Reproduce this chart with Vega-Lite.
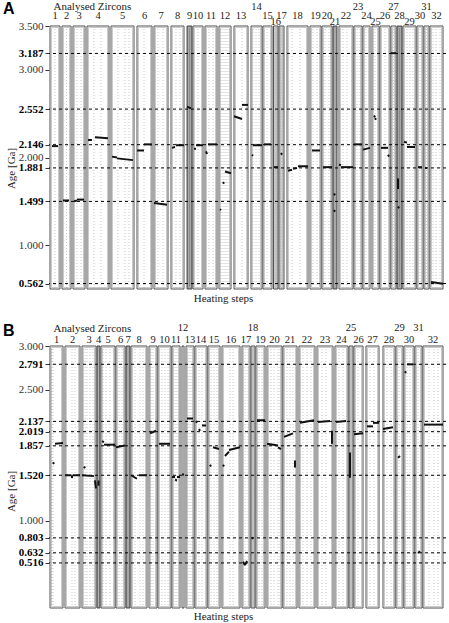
{
  "$schema": "https://vega.github.io/schema/vega-lite/v6.json",
  "autosize": {"type": "pad"},
  "padding": {"left": 3, "top": 0, "right": 3, "bottom": 2},
  "background": "#ffffff",
  "config": {
    "view": {"stroke": null},
    "font": "Liberation Serif",
    "axisY": {"grid": false, "labelOverlap": false, "labelFlush": false, "labelBound": false},
    "title": {"font": "Liberation Sans", "fontSize": 16, "fontWeight": "bold", "color": "#000000", "anchor": "start", "frame": "group", "dx": -46, "baseline": "alphabetic", "offset": -17}
  },
  "datasets": {
    "boxesA": [
      {"z": 1, "from": 1, "to": 11, "tone": "open", "g": [6]},
      {"z": 2, "from": 13, "to": 22, "tone": "open", "g": [17.5]},
      {"z": 3, "from": 24, "to": 36, "tone": "open", "g": [28, 32]},
      {"z": 4, "from": 38, "to": 60, "tone": "open", "g": [45, 52]},
      {"z": 5, "from": 62, "to": 85, "tone": "open", "g": [69, 76, 80]},
      {"z": 6, "from": 88, "to": 103, "tone": "open", "g": [95]},
      {"z": 7, "from": 105, "to": 119, "tone": "open", "g": [109, 114]},
      {"z": 8, "from": 122, "to": 135, "tone": "open", "g": [127, 131]},
      {"z": 9, "from": 138, "to": 143, "tone": "dark", "g": []},
      {"z": 10, "from": 144, "to": 154, "tone": "open", "g": [149]},
      {"z": 11, "from": 156, "to": 168, "tone": "open", "g": [160, 164]},
      {"z": 12, "from": 170, "to": 182, "tone": "open", "g": [172, 174, 176, 178, 180]},
      {"z": 13, "from": 185, "to": 199, "tone": "open", "g": [193]},
      {"z": 14, "from": 202, "to": 213, "tone": "open", "g": [204, 207, 210]},
      {"z": 15, "from": 214, "to": 223, "tone": "open", "g": [218]},
      {"z": 16, "from": 224.5, "to": 229, "tone": "light", "g": [226.5]},
      {"z": 17, "from": 230, "to": 235, "tone": "light", "g": [232.5]},
      {"z": 18, "from": 238, "to": 259, "tone": "open", "g": [243, 251]},
      {"z": 19, "from": 261, "to": 272, "tone": "open", "g": [264, 268]},
      {"z": 20, "from": 273, "to": 283, "tone": "open", "g": [276, 280]},
      {"z": 21, "from": 284, "to": 288, "tone": "dark", "g": []},
      {"z": 22, "from": 290, "to": 304, "tone": "open", "g": [294, 298, 303]},
      {"z": 23, "from": 305, "to": 313, "tone": "open", "g": [308, 311]},
      {"z": 24, "from": 314, "to": 321, "tone": "open", "g": [317]},
      {"z": 25, "from": 323, "to": 330, "tone": "open", "g": [326]},
      {"z": 26, "from": 331, "to": 341, "tone": "open", "g": [336]},
      {"z": 27, "from": 342, "to": 347, "tone": "open", "g": [344.5]},
      {"z": 28, "from": 348, "to": 353, "tone": "dark", "g": []},
      {"z": 29, "from": 354, "to": 367, "tone": "open", "g": [358, 361, 364]},
      {"z": 30, "from": 368, "to": 374, "tone": "open", "g": [371]},
      {"z": 31, "from": 375, "to": 380, "tone": "open", "g": [377.5]},
      {"z": 32, "from": 381, "to": 394, "tone": "open", "g": [384, 387, 391]}
    ],
    "boxesB": [
      {"z": 1, "from": 1, "to": 14, "tone": "open", "g": [2, 3, 4]},
      {"z": 2, "from": 16, "to": 31, "tone": "open", "g": [23, 26]},
      {"z": 3, "from": 33, "to": 47, "tone": "open", "g": [36, 38, 41, 44, 46]},
      {"z": 4, "from": 48, "to": 51, "tone": "dark", "g": []},
      {"z": 5, "from": 52, "to": 66, "tone": "open", "g": [54, 57, 61]},
      {"z": 6, "from": 67, "to": 76, "tone": "open", "g": [70, 73]},
      {"z": 7, "from": 77, "to": 81, "tone": "dark", "g": []},
      {"z": 8, "from": 82, "to": 98, "tone": "open", "g": [86, 91, 94]},
      {"z": 9, "from": 100, "to": 108, "tone": "open", "g": [102, 104]},
      {"z": 10, "from": 109, "to": 122, "tone": "open", "g": [113, 116, 119]},
      {"z": 11, "from": 123, "to": 131, "tone": "open", "g": [126, 128]},
      {"z": 12, "from": 133, "to": 135, "tone": "light", "g": []},
      {"z": 13, "from": 137, "to": 145, "tone": "open", "g": [139, 141, 143]},
      {"z": 14, "from": 146, "to": 158, "tone": "open", "g": [150, 153]},
      {"z": 15, "from": 159, "to": 171, "tone": "open", "g": [162, 165, 168]},
      {"z": 16, "from": 173, "to": 191, "tone": "open", "g": [181, 184]},
      {"z": 17, "from": 193, "to": 201, "tone": "open", "g": [196, 199]},
      {"z": 18, "from": 202, "to": 206, "tone": "light", "g": []},
      {"z": 19, "from": 207, "to": 216, "tone": "open", "g": [210, 213]},
      {"z": 20, "from": 218, "to": 233, "tone": "open", "g": [222, 225, 229, 231]},
      {"z": 21, "from": 234, "to": 248, "tone": "open", "g": [238, 241, 244]},
      {"z": 22, "from": 250, "to": 266, "tone": "open", "g": [254, 258, 262]},
      {"z": 23, "from": 268, "to": 284, "tone": "open", "g": [273, 277]},
      {"z": 24, "from": 286, "to": 299, "tone": "open", "g": [290, 294]},
      {"z": 25, "from": 300, "to": 304, "tone": "light", "g": []},
      {"z": 26, "from": 305, "to": 314, "tone": "open", "g": [309]},
      {"z": 27, "from": 317, "to": 330, "tone": "open", "g": [321, 325]},
      {"z": 28, "from": 334, "to": 346, "tone": "open", "g": [338, 342]},
      {"z": 29, "from": 347, "to": 354, "tone": "open", "g": [350]},
      {"z": 30, "from": 355, "to": 365, "tone": "open", "g": [358, 361]},
      {"z": 31, "from": 366, "to": 373, "tone": "open", "g": [369]},
      {"z": 32, "from": 374, "to": 394, "tone": "open", "g": [380, 385, 389]}
    ],
    "stepsA": [
      {"s0": 3, "s1": 9, "age0": 2.13, "age1": 2.13},
      {"s0": 14, "s1": 20, "age0": 1.51, "age1": 1.51},
      {"s0": 25, "s1": 28, "age0": 1.50, "age1": 1.51},
      {"s0": 28, "s1": 35, "age0": 1.52, "age1": 1.52},
      {"s0": 39, "s1": 43, "age0": 2.20, "age1": 2.20},
      {"s0": 46, "s1": 59, "age0": 2.23, "age1": 2.22},
      {"s0": 63, "s1": 68, "age0": 2.01, "age1": 2.00},
      {"s0": 68, "s1": 84, "age0": 1.99, "age1": 1.97},
      {"s0": 88, "s1": 95, "age0": 2.08, "age1": 2.08},
      {"s0": 95, "s1": 103, "age0": 2.15, "age1": 2.15},
      {"s0": 105, "s1": 118, "age0": 1.48, "age1": 1.46},
      {"s0": 123, "s1": 126, "age0": 2.11, "age1": 2.12},
      {"s0": 127, "s1": 135, "age0": 2.14, "age1": 2.14},
      {"s0": 138, "s1": 142, "age0": 2.58, "age1": 2.56},
      {"s0": 145, "s1": 147, "age0": 2.10, "age1": 2.10},
      {"s0": 147, "s1": 154, "age0": 2.14, "age1": 2.14},
      {"s0": 157, "s1": 158, "age0": 2.07, "age1": 2.04},
      {"s0": 159, "s1": 168, "age0": 2.15, "age1": 2.15},
      {"s0": 171, "s1": 172, "age0": 1.41, "age1": 1.40},
      {"s0": 174, "s1": 175, "age0": 1.72, "age1": 1.70},
      {"s0": 176, "s1": 182, "age0": 1.84, "age1": 1.82},
      {"s0": 185, "s1": 193, "age0": 2.47, "age1": 2.44},
      {"s0": 193, "s1": 199, "age0": 2.60, "age1": 2.60},
      {"s0": 203, "s1": 204, "age0": 2.03, "age1": 2.02},
      {"s0": 204, "s1": 213, "age0": 2.14, "age1": 2.14},
      {"s0": 215, "s1": 222, "age0": 2.15, "age1": 2.15},
      {"s0": 225, "s1": 229, "age0": 1.89, "age1": 1.89},
      {"s0": 232, "s1": 233, "age0": 2.05, "age1": 2.03},
      {"s0": 239, "s1": 243, "age0": 1.85, "age1": 1.86},
      {"s0": 244, "s1": 248, "age0": 1.87, "age1": 1.88},
      {"s0": 249, "s1": 259, "age0": 1.90, "age1": 1.90},
      {"s0": 263, "s1": 271, "age0": 2.08, "age1": 2.08},
      {"s0": 274, "s1": 283, "age0": 1.89, "age1": 1.89},
      {"s0": 285, "s1": 286, "age0": 1.59, "age1": 1.57},
      {"s0": 285, "s1": 286, "age0": 1.40, "age1": 1.38},
      {"s0": 290, "s1": 292, "age0": 1.92, "age1": 1.91},
      {"s0": 292, "s1": 304, "age0": 1.89, "age1": 1.89},
      {"s0": 305, "s1": 313, "age0": 2.15, "age1": 2.15},
      {"s0": 314, "s1": 321, "age0": 2.09, "age1": 2.11},
      {"s0": 325, "s1": 326, "age0": 2.48, "age1": 2.46},
      {"s0": 326, "s1": 327, "age0": 2.45, "age1": 2.43},
      {"s0": 332, "s1": 339, "age0": 2.11, "age1": 2.11},
      {"s0": 339, "s1": 340, "age0": 2.03, "age1": 2.01},
      {"s0": 342, "s1": 347, "age0": 3.19, "age1": 3.19},
      {"s0": 349, "s1": 349, "age0": 1.76, "age1": 1.64},
      {"s0": 349, "s1": 350, "age0": 1.44, "age1": 1.42},
      {"s0": 355, "s1": 358, "age0": 2.18, "age1": 2.17},
      {"s0": 358, "s1": 366, "age0": 2.12, "age1": 2.12},
      {"s0": 369, "s1": 373, "age0": 1.89, "age1": 1.89},
      {"s0": 376, "s1": 378, "age0": 1.88, "age1": 1.88},
      {"s0": 382, "s1": 394, "age0": 0.58, "age1": 0.56}
    ],
    "stepsB": [
      {"s0": 4, "s1": 5, "age0": 1.67, "age1": 1.65},
      {"s0": 6, "s1": 14, "age0": 1.88, "age1": 1.89},
      {"s0": 16, "s1": 22, "age0": 1.52, "age1": 1.52},
      {"s0": 22, "s1": 24, "age0": 1.50, "age1": 1.50},
      {"s0": 24, "s1": 31, "age0": 1.52, "age1": 1.52},
      {"s0": 35, "s1": 36, "age0": 1.62, "age1": 1.60},
      {"s0": 33, "s1": 45, "age0": 1.52, "age1": 1.51},
      {"s0": 46, "s1": 47, "age0": 1.46, "age1": 1.37},
      {"s0": 49.5, "s1": 49.5, "age0": 1.46, "age1": 1.40},
      {"s0": 53, "s1": 55, "age0": 1.91, "age1": 1.90},
      {"s0": 55, "s1": 66, "age0": 1.87, "age1": 1.87},
      {"s0": 67, "s1": 76, "age0": 1.84, "age1": 1.86},
      {"s0": 82, "s1": 88, "age0": 1.52, "age1": 1.48},
      {"s0": 90, "s1": 98, "age0": 1.52, "age1": 1.52},
      {"s0": 101, "s1": 107, "age0": 2.00, "age1": 2.03},
      {"s0": 110, "s1": 121, "age0": 1.88, "age1": 1.88},
      {"s0": 123, "s1": 126, "age0": 1.50, "age1": 1.50},
      {"s0": 126, "s1": 128, "age0": 1.47, "age1": 1.46},
      {"s0": 128, "s1": 131, "age0": 1.50, "age1": 1.50},
      {"s0": 133, "s1": 135, "age0": 1.53, "age1": 1.53},
      {"s0": 138, "s1": 144, "age0": 2.17, "age1": 2.17},
      {"s0": 147, "s1": 148, "age0": 2.14, "age1": 2.12},
      {"s0": 150, "s1": 151, "age0": 2.05, "age1": 2.03},
      {"s0": 153, "s1": 157, "age0": 2.09, "age1": 2.09},
      {"s0": 161, "s1": 162, "age0": 1.64, "age1": 1.62},
      {"s0": 164, "s1": 170, "age0": 1.84, "age1": 1.82},
      {"s0": 174, "s1": 175, "age0": 1.64, "age1": 1.62},
      {"s0": 176, "s1": 180, "age0": 1.74, "age1": 1.79},
      {"s0": 180, "s1": 191, "age0": 1.81, "age1": 1.84},
      {"s0": 194, "s1": 196, "age0": 0.53, "age1": 0.49},
      {"s0": 196, "s1": 198, "age0": 0.49, "age1": 0.54},
      {"s0": 203, "s1": 204, "age0": 0.81, "age1": 0.79},
      {"s0": 208, "s1": 216, "age0": 2.15, "age1": 2.15},
      {"s0": 218, "s1": 229, "age0": 1.88, "age1": 1.86},
      {"s0": 229, "s1": 232, "age0": 1.84, "age1": 1.82},
      {"s0": 235, "s1": 244, "age0": 1.96, "age1": 2.00},
      {"s0": 246, "s1": 246, "age0": 1.69, "age1": 1.61},
      {"s0": 251, "s1": 265, "age0": 2.12, "age1": 2.15},
      {"s0": 269, "s1": 281, "age0": 2.13, "age1": 2.14},
      {"s0": 283, "s1": 283, "age0": 2.03, "age1": 1.88},
      {"s0": 287, "s1": 297, "age0": 2.13, "age1": 2.14},
      {"s0": 301, "s1": 301, "age0": 1.78, "age1": 1.49},
      {"s0": 305, "s1": 314, "age0": 1.99, "age1": 2.00},
      {"s0": 318, "s1": 324, "age0": 2.08, "age1": 2.08},
      {"s0": 324, "s1": 330, "age0": 2.12, "age1": 2.12},
      {"s0": 334, "s1": 344, "age0": 2.05, "age1": 2.07},
      {"s0": 349, "s1": 351, "age0": 1.72, "age1": 1.74},
      {"s0": 356, "s1": 357, "age0": 2.71, "age1": 2.69},
      {"s0": 358, "s1": 364, "age0": 2.79, "age1": 2.79},
      {"s0": 369, "s1": 371, "age0": 0.63, "age1": 0.65},
      {"s0": 375, "s1": 394, "age0": 2.10, "age1": 2.10}
    ],
    "refA": [{"age": 3.187}, {"age": 2.552}, {"age": 2.146}, {"age": 1.881}, {"age": 1.499}, {"age": 0.562}],
    "refB": [{"age": 2.791}, {"age": 2.137}, {"age": 2.019}, {"age": 1.857}, {"age": 1.520}, {"age": 0.803}, {"age": 0.632}, {"age": 0.516}]
  },
  "vconcat": [
    {
      "title": {"text": "A"},
      "width": 397,
      "height": 263,
      "layer": [
        {
          "data": {"name": "refA"},
          "mark": {"type": "rule", "stroke": "#000000", "strokeWidth": 1, "opacity": 0},
          "encoding": {
            "y": {"field": "age", "type": "quantitative", "scale": {"domain": [0.5, 3.5], "nice": false, "zero": false},
                  "axis": {"orient": "left", "values": [3.5, 3.187, 3.0, 2.552, 2.146, 2.0, 1.881, 1.499, 1.0, 0.562], "format": ".3f",
                           "labelFont": "Liberation Serif", "labelFontSize": 11, "labelOverlap": false, "labelFlush": false, "labelPadding": 2,
                           "labelFontWeight": {"condition": {"test": "indexof([3.187, 2.552, 2.146, 1.881, 1.499, 0.562], datum.value) >= 0", "value": "bold"}, "value": "normal"},
                           "labelColor": {"condition": {"test": "indexof([3.187, 2.552, 2.146, 1.881, 1.499, 0.562], datum.value) >= 0", "value": "#000000"}, "value": "#333333"},
                           "ticks": true, "tickSize": 4, "tickColor": "#333", "domain": false, "grid": false,
                           "title": "Age [Ga]", "titleFont": "Liberation Serif", "titleFontSize": 11, "titleFontWeight": "normal", "titleColor": "#222",
                           "titlePadding": 2, "titleY": 142}}
          }
        },
        {
          "data": {"name": "boxesA"},
          "mark": {"type": "rect", "stroke": "#505050", "strokeWidth": 1},
          "encoding": {
            "x": {"field": "from", "type": "quantitative", "scale": {"domain": [0, 397], "nice": false, "zero": false},
                  "axis": {"orient": "top", "title": "Analysed Zircons", "labels": false, "ticks": false, "domain": false, "grid": false,
                           "titleFont": "Liberation Serif", "titleFontSize": 11, "titleFontWeight": "normal", "titleColor": "#222",
                           "titleAnchor": "start", "titleAlign": "left", "titleBaseline": "alphabetic", "titleX": 4, "titleY": -17}},
            "x2": {"field": "to"},
            "y": {"datum": 3.5, "type": "quantitative", "axis": null},
            "y2": {"datum": 0.5},
            "fill": {"field": "tone", "type": "nominal", "scale": {"domain": ["open", "light", "dark"], "range": ["#ffffff", "#d6d6d6", "#8c8c8c"]}, "legend": null}
          }
        },
        {
          "data": {"name": "boxesA"},
          "mark": {"type": "rect", "fill": null, "stroke": "#b4b4b4", "strokeWidth": 0.7, "xOffset": 1.5, "x2Offset": -1.5, "yOffset": 1.5, "y2Offset": -1.5},
          "encoding": {
            "x": {"field": "from", "type": "quantitative", "axis": null},
            "x2": {"field": "to"},
            "y": {"datum": 3.5, "type": "quantitative", "axis": null},
            "y2": {"datum": 0.5}
          }
        },
        {
          "data": {"name": "boxesA"},
          "transform": [{"flatten": ["g"]}],
          "mark": {"type": "rule", "stroke": "#b0b0b0", "strokeWidth": 0.7, "strokeDash": [1, 2]},
          "encoding": {
            "x": {"field": "g", "type": "quantitative", "axis": null},
            "y": {"datum": 3.5, "type": "quantitative", "axis": null},
            "y2": {"datum": 0.5}
          }
        },
        {
          "data": {"name": "refA"},
          "mark": {"type": "rule", "stroke": "#000000", "strokeWidth": 1, "strokeDash": [3, 3]},
          "encoding": {"y": {"field": "age", "type": "quantitative", "axis": null}}
        },
        {
          "data": {"name": "stepsA"},
          "mark": {"type": "rule", "stroke": "#111111", "strokeWidth": 2},
          "encoding": {
            "x": {"field": "s0", "type": "quantitative",
                  "axis": {"orient": "bottom", "title": "Heating steps", "labels": false, "ticks": false, "domain": false, "grid": false,
                           "titleFont": "Liberation Serif", "titleFontSize": 11, "titleFontWeight": "normal", "titleColor": "#222",
                           "titleBaseline": "alphabetic", "titleX": 174, "titleY": 12}},
            "x2": {"field": "s1"},
            "y": {"field": "age0", "type": "quantitative", "axis": null},
            "y2": {"field": "age1"}
          }
        },
        {
          "data": {"name": "boxesA"},
          "transform": [{"filter": "indexof([14, 23, 27, 31, 16, 21, 25, 29], datum.z) < 0"}, {"calculate": "(datum.from + datum.to) / 2", "as": "mid"}],
          "mark": {"type": "text", "fontSize": 10.5, "font": "Liberation Serif", "color": "#222", "baseline": "alphabetic", "dy": -7.5},
          "encoding": {"x": {"field": "mid", "type": "quantitative", "axis": null}, "y": {"datum": 3.5, "type": "quantitative", "axis": null}, "text": {"field": "z"}}
        },
        {
          "data": {"name": "boxesA"},
          "transform": [{"filter": {"field": "z", "oneOf": [14, 23, 27, 31]}}, {"calculate": "(datum.from + datum.to) / 2", "as": "mid"}],
          "mark": {"type": "text", "fontSize": 10.5, "font": "Liberation Serif", "color": "#222", "baseline": "alphabetic", "dy": -16.5},
          "encoding": {"x": {"field": "mid", "type": "quantitative", "axis": null}, "y": {"datum": 3.5, "type": "quantitative", "axis": null}, "text": {"field": "z"}}
        },
        {
          "data": {"name": "boxesA"},
          "transform": [{"filter": {"field": "z", "oneOf": [16, 21, 25, 29]}}, {"calculate": "(datum.from + datum.to) / 2", "as": "mid"}],
          "mark": {"type": "text", "fontSize": 10.5, "font": "Liberation Serif", "color": "#222", "baseline": "alphabetic", "dy": -1.5},
          "encoding": {"x": {"field": "mid", "type": "quantitative", "axis": null}, "y": {"datum": 3.5, "type": "quantitative", "axis": null}, "text": {"field": "z"}}
        }
      ],
      "resolve": {"axis": {"x": "independent", "y": "independent"}}
    },
    {
      "title": {"text": "B"},
      "width": 397,
      "height": 262,
      "layer": [
        {
          "data": {"name": "refB"},
          "mark": {"type": "rule", "stroke": "#000000", "strokeWidth": 1, "opacity": 0},
          "encoding": {
            "y": {"field": "age", "type": "quantitative", "scale": {"domain": [0, 3.0], "nice": false, "zero": false},
                  "axis": {"orient": "left", "values": [3.0, 2.791, 2.5, 2.137, 2.019, 1.857, 1.52, 1.0, 0.803, 0.632, 0.516], "format": ".3f",
                           "labelFont": "Liberation Serif", "labelFontSize": 11, "labelOverlap": false, "labelFlush": false, "labelPadding": 2,
                           "labelFontWeight": {"condition": {"test": "indexof([2.791, 2.137, 2.019, 1.857, 1.52, 0.803, 0.632, 0.516], datum.value) >= 0", "value": "bold"}, "value": "normal"},
                           "labelColor": {"condition": {"test": "indexof([2.791, 2.137, 2.019, 1.857, 1.52, 0.803, 0.632, 0.516], datum.value) >= 0", "value": "#000000"}, "value": "#333333"},
                           "ticks": true, "tickSize": 4, "tickColor": "#333", "domain": false, "grid": false,
                           "title": "Age [Ga]", "titleFont": "Liberation Serif", "titleFontSize": 11, "titleFontWeight": "normal", "titleColor": "#222",
                           "titlePadding": 2, "titleY": 145}}
          }
        },
        {
          "data": {"name": "boxesB"},
          "mark": {"type": "rect", "stroke": "#505050", "strokeWidth": 1},
          "encoding": {
            "x": {"field": "from", "type": "quantitative", "scale": {"domain": [0, 397], "nice": false, "zero": false},
                  "axis": {"orient": "top", "title": "Analysed Zircons", "labels": false, "ticks": false, "domain": false, "grid": false,
                           "titleFont": "Liberation Serif", "titleFontSize": 11, "titleFontWeight": "normal", "titleColor": "#222",
                           "titleAnchor": "start", "titleAlign": "left", "titleBaseline": "alphabetic", "titleX": 4, "titleY": -15}},
            "x2": {"field": "to"},
            "y": {"datum": 3.0, "type": "quantitative", "axis": null},
            "y2": {"datum": 0},
            "fill": {"field": "tone", "type": "nominal", "scale": {"domain": ["open", "light", "dark"], "range": ["#ffffff", "#d6d6d6", "#8c8c8c"]}, "legend": null}
          }
        },
        {
          "data": {"name": "boxesB"},
          "mark": {"type": "rect", "fill": null, "stroke": "#b4b4b4", "strokeWidth": 0.7, "xOffset": 1.5, "x2Offset": -1.5, "yOffset": 1.5, "y2Offset": -1.5},
          "encoding": {
            "x": {"field": "from", "type": "quantitative", "axis": null},
            "x2": {"field": "to"},
            "y": {"datum": 3.0, "type": "quantitative", "axis": null},
            "y2": {"datum": 0}
          }
        },
        {
          "data": {"name": "boxesB"},
          "transform": [{"flatten": ["g"]}],
          "mark": {"type": "rule", "stroke": "#b0b0b0", "strokeWidth": 0.7, "strokeDash": [1, 2]},
          "encoding": {
            "x": {"field": "g", "type": "quantitative", "axis": null},
            "y": {"datum": 3.0, "type": "quantitative", "axis": null},
            "y2": {"datum": 0}
          }
        },
        {
          "data": {"name": "refB"},
          "mark": {"type": "rule", "stroke": "#000000", "strokeWidth": 1, "strokeDash": [3, 3]},
          "encoding": {"y": {"field": "age", "type": "quantitative", "axis": null}}
        },
        {
          "data": {"name": "stepsB"},
          "mark": {"type": "rule", "stroke": "#111111", "strokeWidth": 2},
          "encoding": {
            "x": {"field": "s0", "type": "quantitative",
                  "axis": {"orient": "bottom", "title": "Heating steps", "labels": false, "ticks": false, "domain": false, "grid": false,
                           "titleFont": "Liberation Serif", "titleFontSize": 11, "titleFontWeight": "normal", "titleColor": "#222",
                           "titleBaseline": "alphabetic", "titleX": 174, "titleY": 11}},
            "x2": {"field": "s1"},
            "y": {"field": "age0", "type": "quantitative", "axis": null},
            "y2": {"field": "age1"}
          }
        },
        {
          "data": {"name": "boxesB"},
          "transform": [{"filter": "indexof([12, 18, 25, 29, 31], datum.z) < 0"}, {"calculate": "(datum.from + datum.to) / 2", "as": "mid"}],
          "mark": {"type": "text", "fontSize": 10.5, "font": "Liberation Serif", "color": "#222", "baseline": "alphabetic", "dy": -3},
          "encoding": {"x": {"field": "mid", "type": "quantitative", "axis": null}, "y": {"datum": 3.0, "type": "quantitative", "axis": null}, "text": {"field": "z"}}
        },
        {
          "data": {"name": "boxesB"},
          "transform": [{"filter": {"field": "z", "oneOf": [12, 18, 25, 29, 31]}}, {"calculate": "(datum.from + datum.to) / 2", "as": "mid"}],
          "mark": {"type": "text", "fontSize": 10.5, "font": "Liberation Serif", "color": "#222", "baseline": "alphabetic", "dy": -15},
          "encoding": {"x": {"field": "mid", "type": "quantitative", "axis": null}, "y": {"datum": 3.0, "type": "quantitative", "axis": null}, "text": {"field": "z"}}
        }
      ],
      "resolve": {"axis": {"x": "independent", "y": "independent"}}
    }
  ],
  "spacing": 57,
  "bounds": "flush",
  "resolve": {"scale": {"fill": "shared"}}
}
